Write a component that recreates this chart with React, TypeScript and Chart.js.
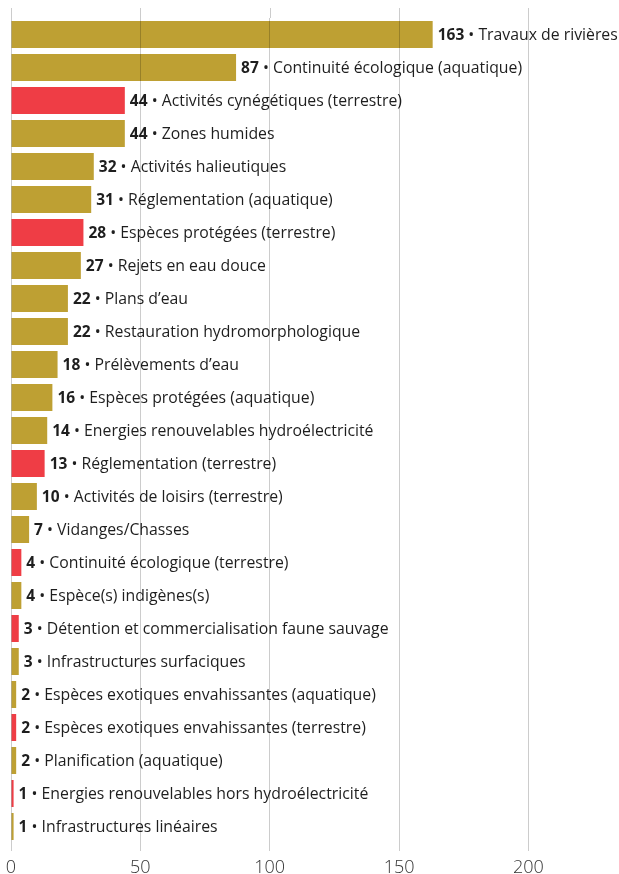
import React, { useEffect, useRef } from 'react';
import { Chart, registerables } from 'chart.js';

Chart.register(...registerables);

const categories = [
  'Travaux de rivières',
  'Continuité écologique (aquatique)',
  'Activités cynégétiques (terrestre)',
  'Zones humides',
  'Activités halieutiques',
  'Réglementation (aquatique)',
  'Espèces protégées (terrestre)',
  'Rejets en eau douce',
  'Plans d’eau',
  'Restauration hydromorphologique',
  'Prélèvements d’eau',
  'Espèces protégées (aquatique)',
  'Energies renouvelables hydroélectricité',
  'Réglementation (terrestre)',
  'Activités de loisirs (terrestre)',
  'Vidanges/Chasses',
  'Continuité écologique (terrestre)',
  'Espèce(s) indigènes(s)',
  'Détention et commercialisation faune sauvage',
  'Infrastructures surfaciques',
  'Espèces exotiques envahissantes (aquatique)',
  'Espèces exotiques envahissantes (terrestre)',
  'Planification (aquatique)',
  'Energies renouvelables hors hydroélectricité',
  'Infrastructures linéaires',
];

const values = [163, 87, 44, 44, 32, 31, 28, 27, 22, 22, 18, 16, 14, 13, 10, 7, 4, 4, 3, 3, 2, 2, 2, 1, 1];

// 'a' = gold group, 't' = red group
const groups = ['a', 'a', 't', 'a', 'a', 'a', 't', 'a', 'a', 'a', 'a', 'a', 'a', 't', 'a', 'a', 't', 'a', 't', 'a', 'a', 't', 'a', 't', 'a'];

const xTicks = [0, 50, 100, 150, 200];
const xMax = 230;

const GOLD = '#BEA033';
const RED = '#EF3D45';
const GRID = 'rgba(0,0,0,0.2)';
const FONT = '"Open Sans", sans-serif';

const labelPlugin = {
  id: 'valueLabels',
  afterDatasetsDraw(chart: any) {
    const ctx = chart.ctx;
    const meta = chart.getDatasetMeta(0);
    ctx.save();
    ctx.textBaseline = 'middle';
    ctx.textAlign = 'left';
    meta.data.forEach((bar: any, i: number) => {
      const x = bar.x + 5;
      const y = bar.y + 1;
      ctx.fillStyle = '#1e1e1e';
      ctx.font = `bold 15.5px ${FONT}`;
      const v = String(values[i]);
      ctx.fillText(v, x, y);
      const w = ctx.measureText(v).width;
      ctx.font = `15.8px ${FONT}`;
      ctx.fillText(' • ' + categories[i], x + w, y);
    });
    ctx.restore();
  },
};

const gridTopPlugin = {
  id: 'gridTop',
  afterDraw(chart: any) {
    const ctx = chart.ctx;
    const xs = chart.scales.x;
    ctx.save();
    ctx.strokeStyle = GRID;
    ctx.lineWidth = 1;
    xs.ticks.forEach((t: any) => {
      const px = Math.round(xs.getPixelForValue(t.value)) + 0.5;
      ctx.beginPath();
      ctx.moveTo(px, 8);
      ctx.lineTo(px, chart.chartArea.top);
      ctx.stroke();
    });
    ctx.restore();
  },
};

export default function App() {
  const ref = useRef<HTMLCanvasElement | null>(null);

  useEffect(() => {
    document.body.style.margin = '0';
    document.body.style.overflow = 'hidden';
    const canvas = ref.current;
    if (!canvas) return;
    const chart = new Chart(canvas, {
      type: 'bar',
      data: {
        labels: categories,
        datasets: [
          {
            data: values,
            backgroundColor: groups.map((g) => (g === 't' ? RED : GOLD)),
            borderWidth: 0,
            categoryPercentage: 1,
            barPercentage: 0.82,
          },
        ],
      },
      options: {
        indexAxis: 'y',
        responsive: false,
        animation: false,
        layout: { padding: { top: 18, left: 11, right: 13, bottom: 0 } },
        plugins: {
          legend: { display: false },
          tooltip: { enabled: false },
        },
        scales: {
          y: { display: false },
          x: {
            min: 0,
            max: xMax,
            afterBuildTicks: (scale: any) => {
              scale.ticks = xTicks.map((v) => ({ value: v }));
            },
            afterFit: (scale: any) => {
              scale.height = 31;
              scale.paddingLeft = 0;
              scale.paddingRight = 0;
            },
            grid: {
              color: GRID,
              z: 1,
              tickLength: 8,
              drawOnChartArea: true,
            },
            border: { display: false },
            ticks: {
              color: '#333',
              padding: 8,
              font: { family: FONT, size: 18, weight: '300', lineHeight: 1 },
              maxRotation: 0,
            },
          },
        },
      },
      plugins: [labelPlugin, gridTopPlugin],
    });
    return () => chart.destroy();
  }, []);

  return (
    <div style={{ width: 619, height: 874 }}>
      <canvas ref={ref} width={619} height={874} style={{ display: 'block', width: 619, height: 874 }} />
    </div>
  );
}
